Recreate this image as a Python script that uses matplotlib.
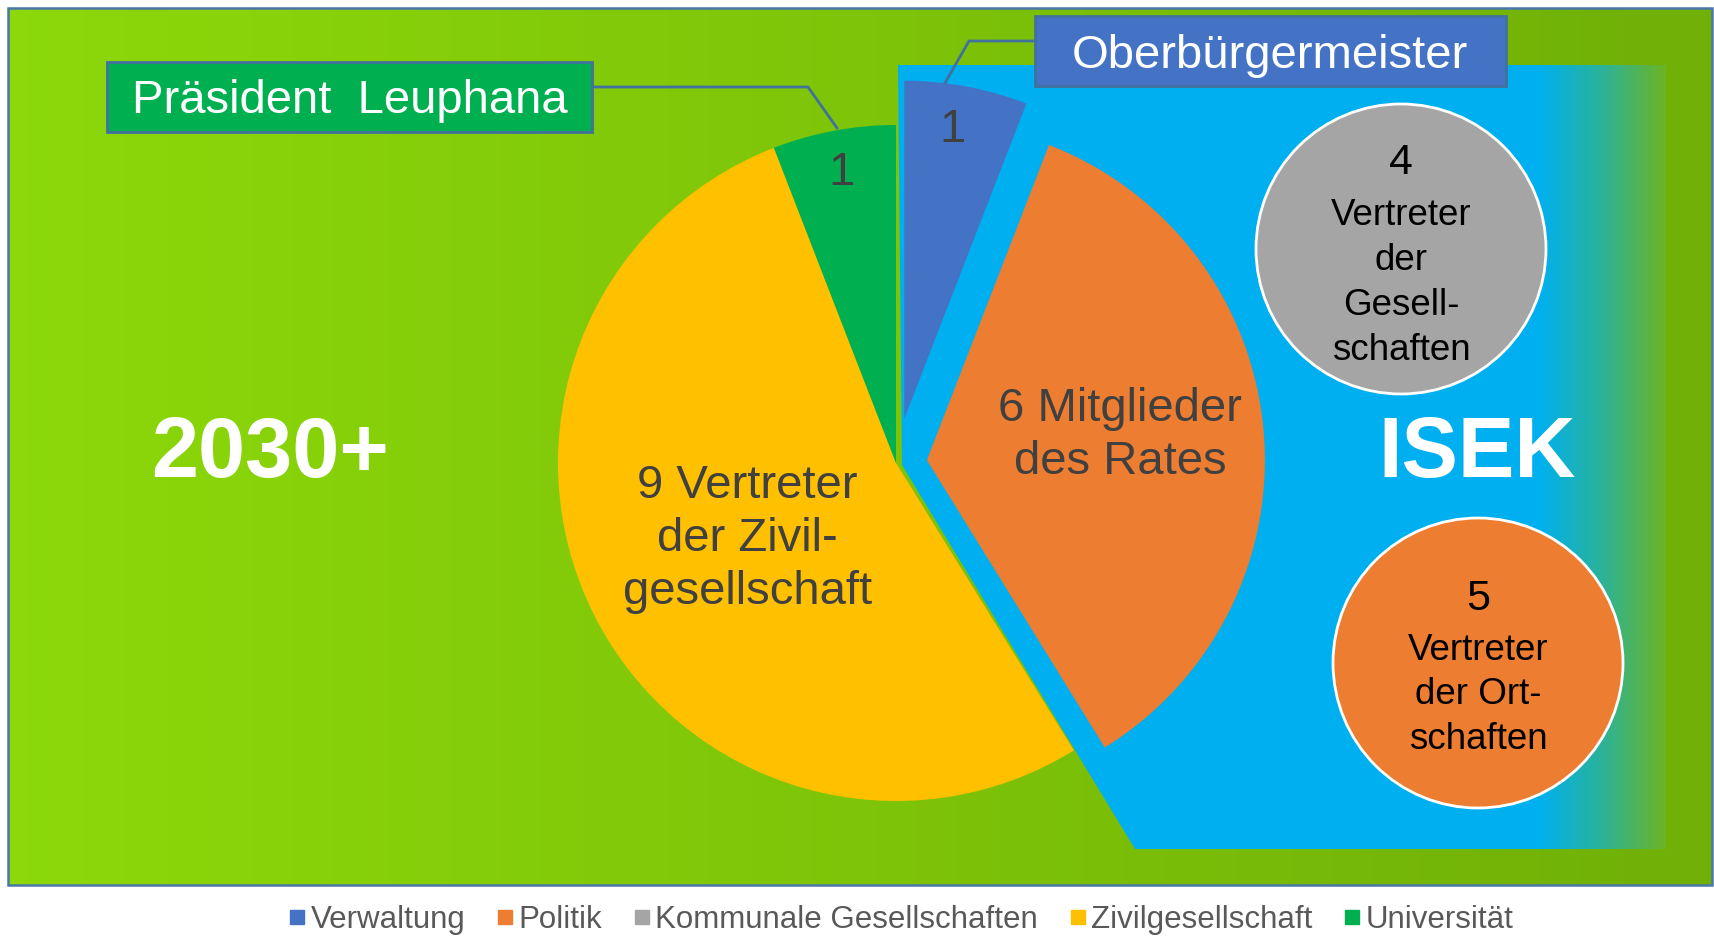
import numpy as np
import matplotlib
matplotlib.use("Agg")
import matplotlib.pyplot as plt
from matplotlib.patches import Rectangle, Polygon, Circle
from matplotlib.lines import Line2D

plt.rcParams['font.family'] = ['Liberation Sans', 'DejaVu Sans']

# Data
categories = ["Verwaltung", "Politik", "Kommunale Gesellschaften", "Zivilgesellschaft", "Universität"]
pie_values = [1, 6, 0, 9, 1]
colors = ["#4472C4", "#ED7D31", "#A5A5A5", "#FFC000", "#00B050"]
slice_labels = ["1", "6 Mitglieder\ndes Rates", "", "9 Vertreter\nder Zivil-\ngesellschaft", "1"]
callout_texts = ["Oberbürgermeister", "Präsident  Leuphana"]
circle_counts = ["4", "5"]
circle_texts = ["Vertreter\nder\nGesell-\nschaften", "Vertreter\nder Ort-\nschaften"]
circle_colors = ["#A5A5A5", "#ED7D31"]
big_labels = ["2030+", "ISEK"]

W, H = 1715, 936
fig = plt.figure(figsize=(W / 100, H / 100), dpi=100)
ax = fig.add_axes([0, 0, 1, 1])

# green background panel with horizontal gradient
bg = np.linspace([0.55, 0.85, 0.04], [0.44, 0.69, 0.03], 256)[None, :, :]
ax.imshow(bg, extent=(8, 1712, H - 885, H - 8), aspect='auto', interpolation='bilinear', zorder=1)
ax.add_patch(Rectangle((8, H - 885), 1704, 877, fill=False, ec='#4A76A8', lw=1.8, zorder=8))

# ISEK blue area with fade to green on the right
isek = Polygon([(898, H - 65), (1666, H - 65), (1666, H - 849), (1135, H - 849), (902, H - 465)],
               closed=True, fc='none', ec='none', zorder=2)
ax.add_patch(isek)
xs = np.linspace(898, 1666, 400)
anchors_x = [898, 1540, 1600, 1666]
anchors_c = np.array([[0.0, 0.69, 0.94], [0.0, 0.69, 0.94], [0.16, 0.70, 0.62], [0.42, 0.71, 0.14]])
grad = np.stack([np.interp(xs, anchors_x, anchors_c[:, k]) for k in range(3)], axis=-1)[None, :, :]
im = ax.imshow(grad, extent=(898, 1666, H - 849, H - 65), aspect='auto', interpolation='bilinear', zorder=2)
im.set_clip_path(isek)

# pie (zero-valued category is left out of the wedges)
idx = [i for i, v in enumerate(pie_values) if v > 0]
explode_px = {"Verwaltung": 45, "Politik": 31}
wedges, _ = ax.pie([pie_values[i] for i in idx], colors=[colors[i] for i in idx],
                   startangle=90, counterclock=False, radius=338, center=(896, H - 463),
                   explode=[explode_px.get(categories[i], 0) for i in idx],
                   wedgeprops=dict(linewidth=0, zorder=3))
label_frac = {"Verwaltung": 0.875, "Politik": 0.56, "Zivilgesellschaft": 0.49, "Universität": 0.88}
label_shift = {"Verwaltung": (-6, -2), "Politik": (5, 7), "Zivilgesellschaft": (0, -2), "Universität": (0, -2)}
for w, i in zip(wedges, idx):
    w.set_zorder(3)
    th = np.deg2rad((w.theta1 + w.theta2) / 2)
    f = label_frac[categories[i]]
    sx, sy = label_shift[categories[i]]
    cx, cy = w.center
    ax.text(cx + f * w.r * np.cos(th) + sx, cy + f * w.r * np.sin(th) + sy,
            slice_labels[i], ha='center', va='center', fontsize=34, color='#404040',
            linespacing=1.27, zorder=7)

# circles for the ISEK members
circ_pos = [(1401, 249), (1478, 663)]
count_off = [-86, -64]
text_off = [34, 32]
for (cx, cy), cnt, txt, col, co, to in zip(circ_pos, circle_counts, circle_texts, circle_colors, count_off, text_off):
    ax.add_patch(Circle((cx, H - cy), 145, fc=col, ec='white', lw=2, zorder=4))
    ax.text(cx, H - (cy + co), cnt, ha='center', va='center', fontsize=31, color='black', zorder=7)
    ax.text(cx, H - (cy + to), txt, ha='center', va='center', fontsize=26.5, color='black',
            linespacing=1.36, zorder=7)

# callout boxes with connector lines
ax.plot([1035, 969, 945], [H - 41, H - 41, H - 83], color='#41719C', lw=2, zorder=5)
ax.plot([592, 808, 837], [H - 87, H - 87, H - 128], color='#41719C', lw=2, zorder=5)
ax.add_patch(Rectangle((1035, H - 86), 471, 70, fc='#4472C4', ec='#41719C', lw=2, zorder=6))
ax.add_patch(Rectangle((107, H - 132), 485, 70, fc='#00B050', ec='#41719C', lw=2, zorder=6))
ax.text(1270, H - 56, callout_texts[0], ha='center', va='center', fontsize=34, color='white', zorder=7)
ax.text(350, H - 101, callout_texts[1], ha='center', va='center', fontsize=34, color='white', zorder=7)

# big titles
ax.text(270, H - 455, big_labels[0], ha='center', va='center', fontsize=61, fontweight='bold',
        color='white', zorder=7)
ax.text(1477, H - 455, big_labels[1], ha='center', va='center', fontsize=61, fontweight='bold',
        color='white', zorder=7)

ax.set_xlim(0, W)
ax.set_ylim(0, H)
ax.set_aspect('equal')
ax.axis('off')

# legend
handles = [Line2D([], [], marker='s', linestyle='', color=c, markersize=10.5) for c in colors]
fig.legend(handles, categories, loc='center', bbox_to_anchor=(901 / W, 1 - 920 / H), ncol=5,
           frameon=False, fontsize=22.5, labelcolor='#595959', handlelength=0.55, handletextpad=0.15,
           columnspacing=1.0, borderpad=0)

fig.savefig("out.png", dpi=100, facecolor='white')
